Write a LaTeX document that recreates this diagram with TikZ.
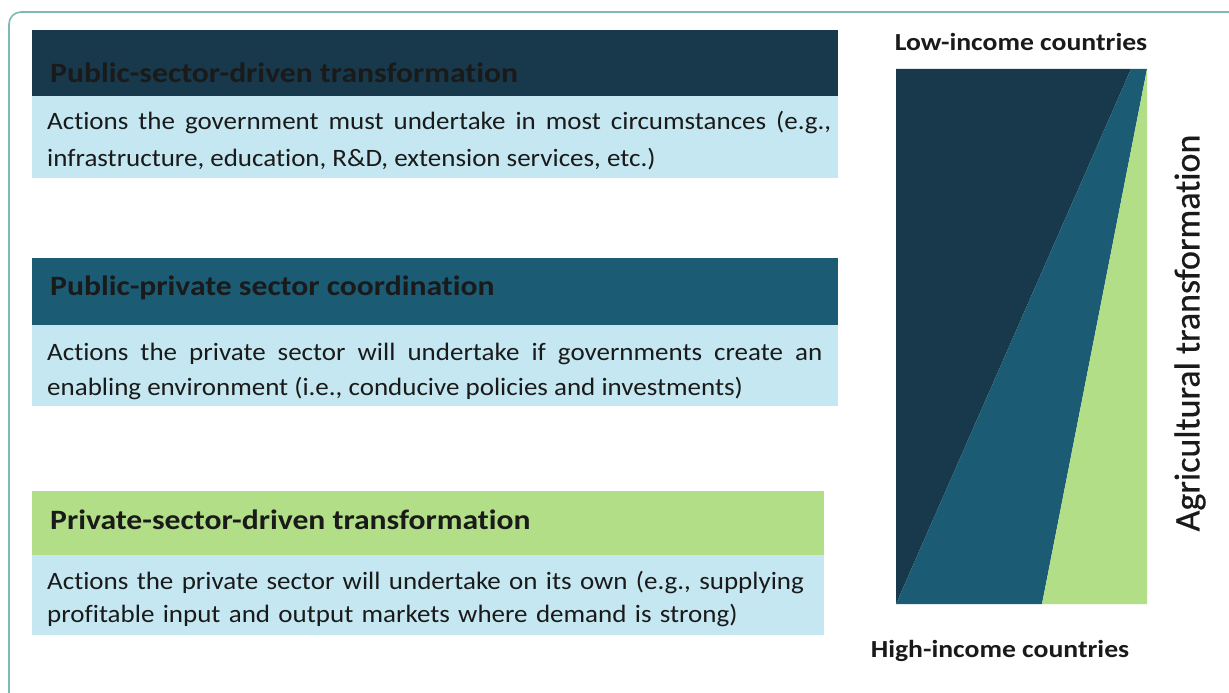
\documentclass[tikz,border=0pt]{standalone}
\usepackage{fontspec}
\setmainfont{Carlito}[Ligatures=NoCommon]
\newfontfamily\bodyfont{Carlito}[FakeStretch=1.08, Ligatures=NoCommon]
\newfontfamily\headfont{Carlito}[FakeStretch=1.13, Ligatures=NoCommon]
\newfontfamily\axisfont{Carlito}[FakeBold=0.6, Ligatures=NoCommon]
\definecolor{navy}{HTML}{17394B}
\definecolor{teal}{HTML}{1B5C74}
\definecolor{lightblue}{HTML}{C5E7F1}
\definecolor{leaf}{HTML}{B1DE86}
\definecolor{frame}{HTML}{7DB9B6}
\definecolor{ink}{HTML}{1A1A1A}
\begin{document}
\begin{tikzpicture}[x=1pt,y=-1pt,
  band/.style={draw=none, inner sep=0pt, anchor=north west, minimum width=806pt},
  headtext/.style={anchor=base west, inner sep=0pt, text=ink, font=\headfont\fontsize{28}{32}\selectfont\bfseries},
  bodytext/.style={anchor=north west, inner sep=0pt, text=ink, font=\bodyfont\fontsize{25}{36}\selectfont, text width=784pt, align=justify},
  axislabel/.style={inner sep=0pt, text=ink, font=\headfont\fontsize{24.5}{28}\selectfont\bfseries},
]
\useasboundingbox (0,0) rectangle (1229,693);
\fill[white] (0,0) rectangle (1229,693);
\draw[frame, line width=1.6pt, rounded corners=12pt] (9,12) rectangle (1260,720);

% box 1
\node[band, fill=navy, minimum height=66pt] (h1) at (32,30) {};
\node[band, fill=lightblue, minimum height=82pt] (b1) at (32,96) {};
\node[headtext] (t1) at (50,82) {Public-sector-driven transformation};
\node[bodytext, font=\bodyfont\fontsize{25}{37}\selectfont] (d1) at (47,111) {Actions the government must undertake in most circumstances (e.g.,\linebreak infrastructure, education, R\&D, extension services, etc.)};

% box 2
\node[band, fill=teal, minimum height=67pt] (h2) at (32,258) {};
\node[band, fill=lightblue, minimum height=81pt] (b2) at (32,325) {};
\node[headtext] (t2) at (50,295) {Public-private sector coordination};
\node[bodytext, text width=775pt, font=\bodyfont\fontsize{25}{35}\selectfont] (d2) at (47,343) {Actions the private sector will undertake if governments create an\linebreak enabling environment (i.e., conducive policies and investments)};

% box 3
\node[band, fill=leaf, minimum height=64pt, minimum width=792pt] (h3) at (32,491) {};
\node[band, fill=lightblue, minimum height=80pt, minimum width=792pt] (b3) at (32,555) {};
\node[headtext] (t3) at (50,529) {Private-sector-driven transformation};
\node[bodytext, align=left, font=\bodyfont\fontsize{25}{33}\selectfont] (d3) at (47,571) {Actions the private sector will undertake on its own (e.g., supplying\\ profitable input and output markets where demand is strong)};

% chart
\coordinate (tl) at (896,69);
\coordinate (tm) at (1131,69);
\coordinate (tr) at (1147,69);
\coordinate (br) at (1147,604);
\coordinate (bm) at (1042,604);
\coordinate (bl) at (896,604);
\fill[navy] (tl) -- (tm) -- (bl) -- cycle;
\fill[teal] (tm) -- (tr) -- (bm) -- (bl) -- cycle;
\fill[leaf] (tr) -- (br) -- (bm) -- cycle;

\node[axislabel, anchor=base] (low) at (1021,51) {Low-income countries};
\node[axislabel, anchor=base] (high) at (1000,657) {High-income countries};
\node[inner sep=0pt, text=ink, font=\axisfont\fontsize{36}{40}\selectfont, rotate=90] (agri) at (1190,333) {Agricultural transformation};
\end{tikzpicture}
\end{document}
